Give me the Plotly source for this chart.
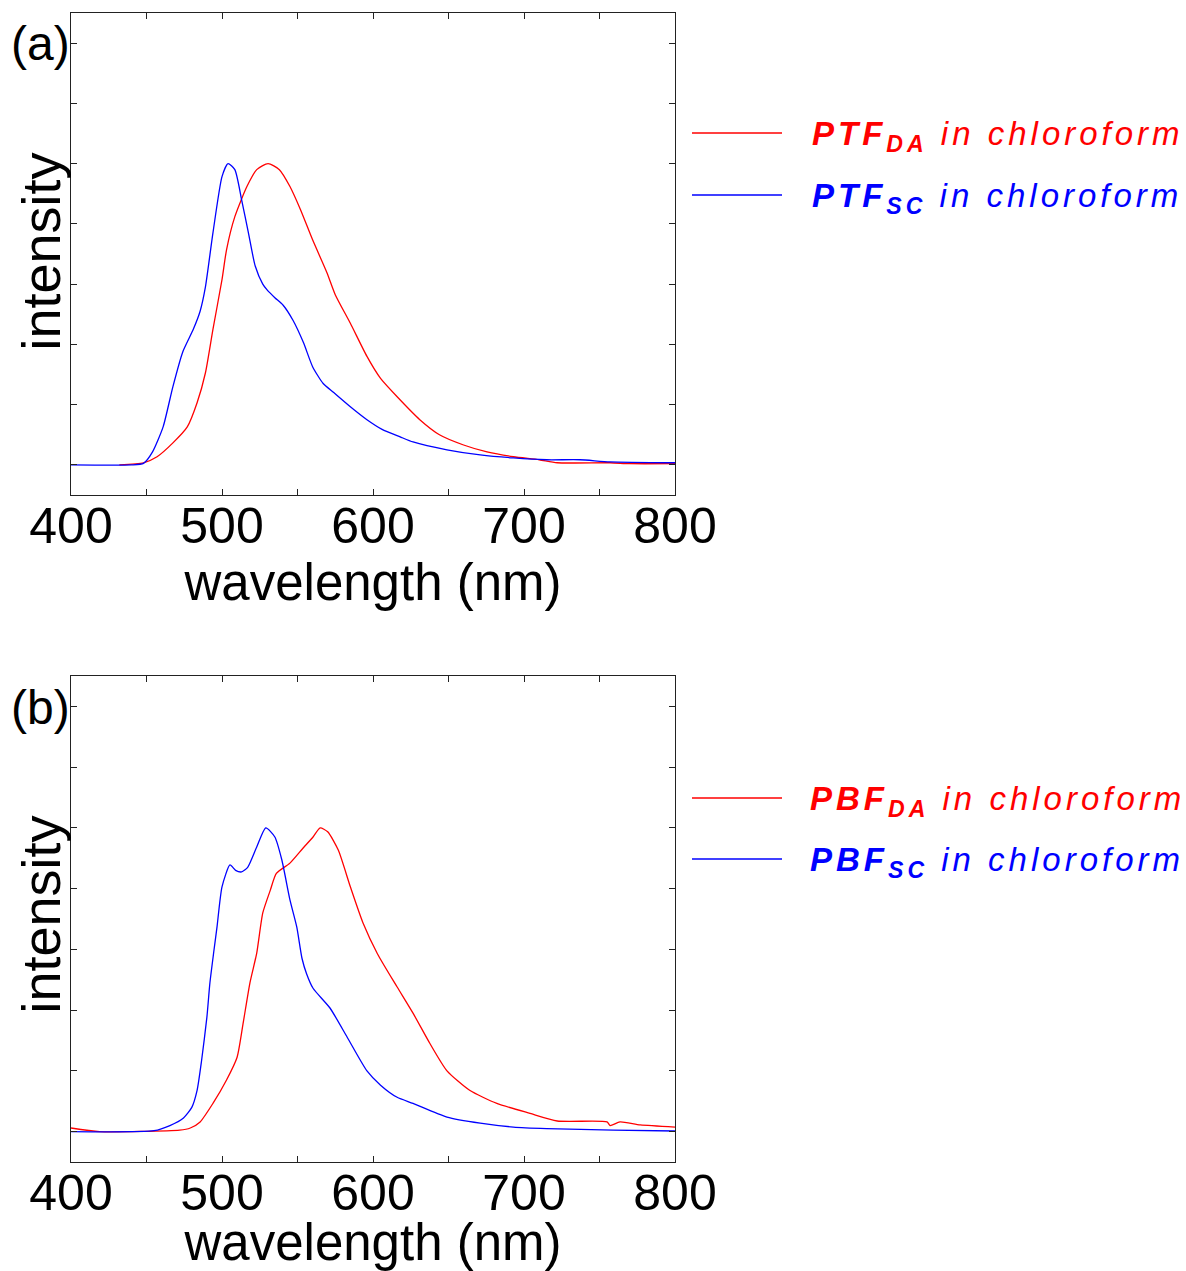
import plotly.graph_objects as go

# ---------------- data ----------------
# (a) PTF_SC in chloroform (blue)
ptf_sc_wl = [400, 440, 448, 454, 461, 467.5, 474, 481, 485.5, 489, 494, 500, 504, 508.5,
             513, 517.5, 522, 527, 530, 535, 540.5, 547, 554, 560, 567, 574, 585, 596,
             606, 618, 626.5, 649, 671, 693, 715, 737, 757, 800]
ptf_sc_int = [0, 0, 0.005, 0.043, 0.126, 0.26, 0.375, 0.45, 0.51, 0.59, 0.77, 0.957, 1.0, 0.98,
              0.88, 0.77, 0.66, 0.6, 0.58, 0.555, 0.53, 0.48, 0.405, 0.326, 0.27, 0.24, 0.193, 0.15,
              0.118, 0.093, 0.076, 0.05, 0.033, 0.023, 0.017, 0.017, 0.01, 0.007]

# (a) PTF_DA in chloroform (red)
ptf_da_wl = [432, 448, 457, 467.5, 477, 483.5, 489, 494, 500, 503, 508.5, 516.5, 523, 530.5,
             538, 545, 552, 560, 569.5, 575, 585, 596, 605, 616, 631, 644, 660, 675.5, 693,
             710, 722, 757, 770, 800]
ptf_da_int = [0, 0.007, 0.027, 0.073, 0.126, 0.206, 0.305, 0.45, 0.615, 0.714, 0.824, 0.924, 0.98, 1.0,
              0.98, 0.924, 0.847, 0.747, 0.638, 0.565, 0.47, 0.36, 0.287, 0.226, 0.15, 0.1, 0.066, 0.043, 0.027,
              0.017, 0.007, 0.007, 0.004, 0.004]

# (b) PBF_SC in chloroform (blue)
pbf_sc_wl = [400, 455, 465.5, 474.5, 480, 483.5, 486.5, 490, 492, 494.7, 496.7, 500, 505.3, 509,
             513, 517, 523, 529, 535, 539.6, 545, 549.5, 553, 556, 560.3, 571.5, 583, 596,
             605, 616, 626.5, 649, 671, 693, 715, 759, 800]
pbf_sc_int = [0, 0.003, 0.02, 0.045, 0.08, 0.136, 0.235, 0.377, 0.49, 0.598, 0.674, 0.806, 0.878, 0.86,
              0.855, 0.87, 0.937, 1.0, 0.97, 0.895, 0.763, 0.674, 0.57, 0.52, 0.472, 0.407, 0.31, 0.2,
              0.153, 0.113, 0.093, 0.048, 0.028, 0.015, 0.01, 0.005, 0.002]

# (b) PBF_DA in chloroform (red)
pbf_da_wl = [400, 419, 472, 479, 485.5, 494, 503, 510, 514, 518.5, 523, 527, 532, 536, 545,
             553.6, 560.3, 565, 570, 577, 585, 593.4, 603, 616, 626.5, 637.7, 649, 664, 682,
             704, 722, 755, 757, 763.6, 777, 800]
pbf_da_int = [0.012, 0, 0.005, 0.012, 0.032, 0.093, 0.17, 0.245, 0.357, 0.49, 0.588, 0.72, 0.795, 0.85, 0.884,
              0.933, 0.97, 1.0, 0.987, 0.927, 0.806, 0.687, 0.585, 0.476, 0.39, 0.29, 0.2, 0.136, 0.093,
              0.06, 0.035, 0.032, 0.02, 0.032, 0.022, 0.015]

x_tickvals = [400, 500, 600, 700, 800]
x_ticktext = ["400", "500", "600", "700", "800"]
x_minor_step = 50

legend_a = ["PTF<sub>DA</sub>", "PTF<sub>SC</sub>"]
legend_b = ["PBF<sub>DA</sub>", "PBF<sub>SC</sub>"]
panel_labels = ["(a)", "(b)"]
y_title = "intensity"
x_title = "wavelength (nm)"

RED = "#ff0000"
BLUE = "#0000ff"

# ---------------- figure ----------------
W, H = 1186, 1271
ML, MR, MT, MB = 71, 511, 13, 109
plot_h = H - MT - MB


def py(pix):
    return (H - MB - pix) / plot_h


def px(pix):
    return (pix - ML) / (W - ML - MR)


LINE = dict(width=1.3, shape="spline", smoothing=0.6)

fig = go.Figure()
fig.add_trace(go.Scatter(x=ptf_da_wl, y=ptf_da_int, mode="lines", line=dict(color=RED, **LINE),
                         xaxis="x", yaxis="y", showlegend=False))
fig.add_trace(go.Scatter(x=ptf_sc_wl, y=ptf_sc_int, mode="lines", line=dict(color=BLUE, **LINE),
                         xaxis="x", yaxis="y", showlegend=False))
fig.add_trace(go.Scatter(x=pbf_da_wl, y=pbf_da_int, mode="lines", line=dict(color=RED, **LINE),
                         xaxis="x2", yaxis="y2", showlegend=False))
fig.add_trace(go.Scatter(x=pbf_sc_wl, y=pbf_sc_int, mode="lines", line=dict(color=BLUE, **LINE),
                         xaxis="x2", yaxis="y2", showlegend=False))

FONT = "Liberation Sans, Arial, sans-serif"

xaxis_common = dict(
    range=[400, 800], tickmode="array", tickvals=x_tickvals, ticktext=x_ticktext,
    ticks="inside", ticklen=6, tickwidth=1, tickcolor="#222",
    minor=dict(tickmode="linear", tick0=400, dtick=x_minor_step, ticks="inside", ticklen=6,
               tickwidth=1, tickcolor="#222", showgrid=False),
    showline=True, linecolor="#222", linewidth=1.3, mirror="ticks",
    showgrid=False, zeroline=False, ticklabelstandoff=-13,
    tickfont=dict(family=FONT, size=50, color="black"),
    title=dict(text=x_title, font=dict(family=FONT, size=51, color="black"), standoff=4),
)
yaxis_common = dict(
    range=[-0.1, 1.5], tick0=0, dtick=0.2, showticklabels=False,
    ticks="inside", ticklen=6, tickwidth=1, tickcolor="#222",
    showline=True, linecolor="#222", linewidth=1.3, mirror="ticks",
    showgrid=False, zeroline=False,
)

top_a = py(13)
bot_a = py(495)
top_b = py(676)

fig.update_layout(
    width=W, height=H,
    margin=dict(l=ML, r=MR, t=MT, b=MB, autoexpand=False),
    paper_bgcolor="white", plot_bgcolor="white",
    xaxis=dict(domain=[0, 1], anchor="y", **xaxis_common),
    yaxis=dict(domain=[bot_a, top_a], anchor="x", **yaxis_common),
    xaxis2=dict(domain=[0, 1], anchor="y2", **xaxis_common),
    yaxis2=dict(domain=[0, top_b], anchor="x2", **yaxis_common),
)

annotations = []
shapes = []
legend_rows = [
    (legend_a[0], RED, 133, 810),
    (legend_a[1], BLUE, 195, 810),
    (legend_b[0], RED, 798, 808),
    (legend_b[1], BLUE, 859, 808),
]
for label, color, ypix, xtext in legend_rows:
    shapes.append(dict(type="line", xref="paper", yref="paper",
                       x0=px(692), x1=px(782), y0=py(ypix), y1=py(ypix),
                       line=dict(color=color, width=1.3)))
    annotations.append(dict(
        xref="paper", yref="paper", x=px(xtext), y=py(ypix + 3), xanchor="left", yanchor="middle",
        showarrow=False,
        text='<span style="letter-spacing:4px"><b><i>' + label + '</i></b><i> in chloroform</i></span>',
        font=dict(family=FONT, size=33, color=color),
    ))

for lab, ypix in zip(panel_labels, [44, 708]):
    annotations.append(dict(xref="paper", yref="paper", x=px(40), y=py(ypix),
                            xanchor="center", yanchor="middle", showarrow=False,
                            text=lab, font=dict(family=FONT, size=48, color="black")))

# y-axis titles (rotated), one per panel
for ypix in [(13 + 495) / 2 - 2, (676 + 1162) / 2 - 4]:
    annotations.append(dict(xref="paper", yref="paper", x=px(40.5), y=py(ypix),
                            xanchor="center", yanchor="middle", showarrow=False, textangle=-90,
                            text=y_title, font=dict(family=FONT, size=54, color="black")))

fig.update_layout(annotations=annotations, shapes=shapes)
fig.write_html("out.html", config={"displayModeBar": False},
               post_script="document.body.style.margin='0px';")
